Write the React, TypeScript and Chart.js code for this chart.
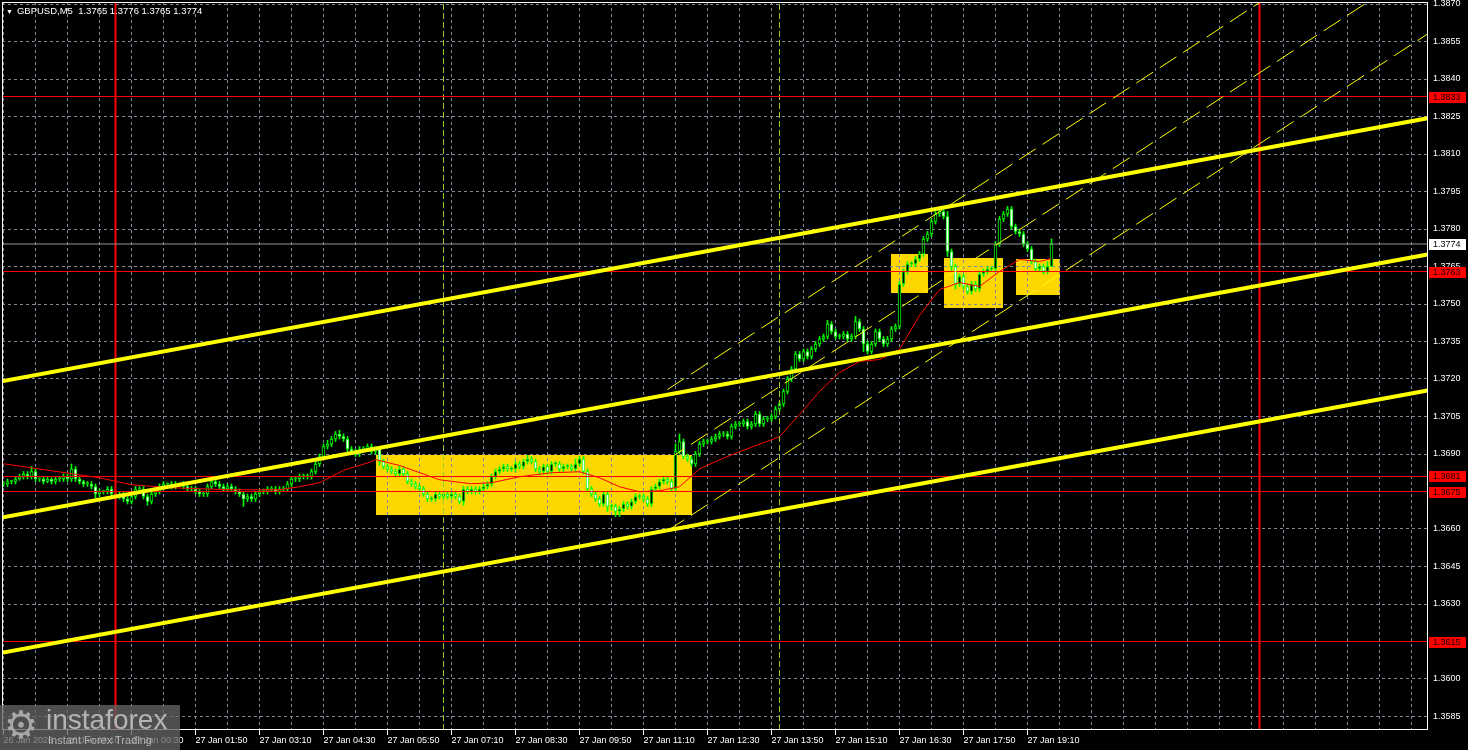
import React, { useEffect, useRef } from 'react';
import { Chart, registerables } from 'chart.js';

Chart.register(...registerables);

// ---- price data (pips above 1.3600), M5 candles, index 0 = 26 Jan 21:50 ----
const BASE = 1.36;
const PIP = 0.0001;
const FIRST_OPEN = 78;

const closePips = [
  78, 79, 79, 80, 81, 82, 81, 83, 80, 80, 79, 80, 79, 80, 80, 81,
  80, 84, 80, 79, 78, 78, 77, 74, 75, 75, 76, 74, 73, 74, 72, 71,
  73, 76, 76, 73, 71, 74, 75, 77, 78, 78, 77, 78, 78, 77, 76, 76,
  75, 74, 74, 77, 79, 78, 77, 76, 77, 76, 75, 74, 72, 73, 72, 74,
  75, 75, 76, 76, 75, 76, 76, 78, 80, 80, 81, 81, 81, 83, 86, 89,
  93, 94, 96, 98, 97, 96, 92, 91, 90, 92, 92, 93, 91, 92, 87, 85,
  84, 83, 82, 84, 82, 79, 78, 77, 76, 74, 72, 72, 74, 73, 74, 73,
  74, 73, 71, 76, 75, 76, 75, 76, 77, 78, 81, 83, 84, 85, 84, 84,
  86, 85, 87, 88, 87, 84, 83, 85, 83, 86, 86, 84, 85, 85, 84, 86,
  88, 83, 76, 74, 72, 70, 74, 69, 69, 67, 68, 70, 69, 71, 73, 73,
  72, 70, 76, 77, 79, 80, 79, 76, 91, 95, 89, 88, 86, 90, 94, 95,
  95, 96, 97, 98, 98, 97, 101, 102, 102, 103, 101, 102, 106, 102, 104, 104,
  105, 108, 110, 115, 120, 124, 130, 128, 131, 129, 132, 134, 136, 137, 142, 139,
  137, 137, 138, 136, 137, 143, 140, 134, 131, 134, 139, 136, 134, 136, 140, 141,
  158, 163, 166, 166, 168, 170, 176, 178, 183, 186, 187, 185, 171, 165, 158, 161,
  157, 155, 158, 156, 162, 163, 164, 164, 174, 184, 186, 188, 181, 179, 178, 174,
  172, 167, 164, 165, 163, 165, 174,
];

const upWick = [
  1, 1, 0.5, 1, 1, 1, 1, 2, 1, 0.5, 1, 1, 0.5, 1, 1, 1,
  1, 2, 1, 1, 0.5, 1, 1, 1, 1, 0.5, 1, 1, 1, 1, 1, 1,
  1, 1, 1, 1, 1, 1, 1, 1, 1, 0.5, 1, 1, 0.5, 1, 1, 1,
  1, 1, 1, 1, 1, 1, 1, 1, 1, 1, 1, 1, 1, 1, 1, 1,
  1, 1, 1, 1, 1, 1, 1, 1, 1, 1, 1, 1, 1, 1, 1.5, 1,
  1, 1.5, 1, 1, 1.5, 1, 1, 1, 1, 1, 1, 1, 1, 1, 1, 1,
  1, 1, 1, 1.5, 1, 1, 1, 1, 1, 1, 1, 1, 1, 1, 1, 1,
  1, 1, 1, 1, 1, 1, 1, 1, 1, 1, 1, 1, 1, 1, 1, 1,
  1, 1, 1, 1.5, 1, 1, 1, 1, 1, 1, 1, 1, 1, 1, 1, 2,
  1, 1, 1, 1, 1, 1, 1, 1, 1, 1, 1, 1, 1, 1, 1, 1,
  1, 1, 1, 1, 1, 1, 1, 1, 3, 3, 1, 1, 1, 1, 1, 1,
  1, 1, 1, 1, 1, 1, 1, 1, 1, 1, 1, 1, 1, 1, 1, 1,
  1, 1, 1, 1, 1, 1, 1, 1, 1, 1, 1, 1, 1, 1, 1.5, 1,
  1, 1, 1, 1, 1, 2, 1, 1, 1, 1, 1, 1, 1, 1, 1, 1,
  1, 1, 1, 1, 1, 1, 1, 1, 1, 1, 1, 1, 2, 1, 1, 1,
  1, 1, 1, 1, 1, 1, 1, 1, 1, 1, 1, 1, 1, 1, 1, 1,
  1, 1, 1, 1, 1, 2, 2,
];

const downWick = [
  1, 1, 1, 1, 0.5, 1, 1, 1, 1, 1, 1, 0.5, 1, 1, 1, 1,
  1, 1, 1, 1, 1, 1, 1, 1.5, 1, 1, 1, 1, 1, 1, 1, 1,
  1, 1, 1, 1, 1.5, 1, 1, 1, 1, 1, 1, 1, 1, 1, 1, 1,
  1, 1, 1, 1, 1, 1, 1, 1, 1, 1, 1, 1, 3, 1, 1, 1,
  1, 1, 1, 1, 1, 1, 1, 1, 1, 1, 1, 1, 1, 1, 1, 1,
  1, 1, 1, 1, 1, 1, 1.5, 1, 1, 1, 1, 1, 1, 1, 1.5, 1,
  1, 1, 1, 1, 1, 1, 1, 1, 1, 1, 1, 1, 1, 1, 1, 1,
  1, 1, 1, 1.5, 1, 1, 1, 1, 1, 1, 1, 1, 1, 1, 1, 1,
  1, 1, 1, 1, 1, 1, 1, 1, 1, 1, 1, 1, 1, 1, 1, 1,
  1, 1, 1, 1, 1, 1, 1, 2, 1.5, 2, 2, 1, 1, 1, 1, 1,
  1, 1, 1, 1, 1, 1, 1, 1, 1, 1, 1, 1, 1, 1, 1, 1,
  1, 1, 1, 1, 1, 1, 1, 1, 1, 1, 1, 1, 1, 1, 1, 1,
  1, 1, 1, 1, 1, 1, 1, 1, 1, 1, 1, 1, 1, 1, 1, 1,
  1, 1, 1, 1, 1, 1, 1, 3, 1, 1, 1, 1, 1, 1, 1, 1,
  1, 1, 1, 1, 1, 1, 1, 1, 1, 1, 1, 1, 2, 2, 2, 1,
  1, 1, 1, 1, 1, 1, 1, 1, 1, 1, 1, 1, 1, 1, 1, 1,
  1, 1, 1, 1, 1, 1, 0,
];

// moving average (red)
const maIndex = [0, 24, 32, 42, 49, 57, 69, 74, 79, 82, 85, 92, 93, 99, 109, 117, 122, 129, 137, 144, 149, 154, 159, 164, 169, 174, 179, 184, 194, 199, 204, 209, 214, 219, 224, 229, 234, 239, 244, 249, 254, 259, 262];
const maPips = [86.1, 80.5, 77.7, 76.5, 76.1, 75.7, 75.7, 76.9, 78.5, 81, 83.5, 86.9, 87.8, 85.4, 79.7, 78.1, 78.5, 80.9, 82.5, 82.9, 80.5, 76.9, 74.9, 75.3, 76.9, 84, 87.7, 90.9, 96.9, 105.8, 115, 122.6, 127, 127.8, 131.8, 145.4, 155.8, 158.6, 157, 163, 167.8, 167, 168.2];

// axis
const xTickLabels = ['26 Jan 2026', '26 Jan 23:10', '27 Jan 00:30', '27 Jan 01:50', '27 Jan 03:10', '27 Jan 04:30', '27 Jan 05:50', '27 Jan 07:10', '27 Jan 08:30', '27 Jan 09:50', '27 Jan 11:10', '27 Jan 12:30', '27 Jan 13:50', '27 Jan 15:10', '27 Jan 16:30', '27 Jan 17:50', '27 Jan 19:10'];
const xGridValues = [0, 8, 16, 24, 32, 40, 48, 56, 64, 72, 80, 88, 96, 104, 112, 120, 128, 136, 144, 152, 160, 168, 176, 184, 192, 200, 208, 216, 224, 232, 240, 248, 256, 264, 272, 280, 288, 296, 304, 312, 320, 328, 336, 344, 352];
const yTicks = [1.3585, 1.3600, 1.3615, 1.3630, 1.3645, 1.3660, 1.3675, 1.3690, 1.3705, 1.3720, 1.3735, 1.3750, 1.3765, 1.3780, 1.3795, 1.3810, 1.3825, 1.3840, 1.3855, 1.3870];
const X_MIN = -0.375;
const X_MAX = 356.125;
const Y_MIN = 1.35796;
const Y_MAX = 1.38708;

// levels & objects
const redLevels = [1.3833, 1.3763, 1.3681, 1.3675, 1.3615];
const currentPrice = 1.3774;
const redVerticals = [28, 314];
const sessionVerticals = [110, 194];

const trendX = [-0.75, 356];
const trendUpper = [1.37190, 1.38243];
const trendMiddle = [1.36645, 1.37698];
const trendLower = [1.36104, 1.37154];

const channelX = [166, 356];
const channelUpper = [1.37158, 1.39145];
const channelMiddle = [1.36877, 1.38864];
const channelLower = [1.36593, 1.38580];

const rectStart = [93, 222, 235, 253];
const rectEnd = [172, 231, 250, 264];
const rectTop = [1.36897, 1.37702, 1.37686, 1.37682];
const rectBottom = [1.36657, 1.37543, 1.37483, 1.37538];

const GRID = 'rgb(128,138,152)';
const FONT = "'Liberation Sans', Arial, sans-serif";

const px = (p: number) => BASE + p * PIP;

function buildCandles() {
  const wick: any[] = [];
  const body: any[] = [];
  const fills: string[] = [];
  closePips.forEach((c, i) => {
    const o = i === 0 ? FIRST_OPEN : closePips[i - 1];
    const hi = Math.max(o, c) + upWick[i];
    const lo = Math.min(o, c) - downWick[i];
    wick.push({ x: i, y: [px(lo), px(hi)] });
    body.push({ x: i, y: [px(o), px(c)] });
    fills.push(c >= o ? '#000000' : '#ffffff');
  });
  return { wick, body, fills };
}

function lineDs(xs: number[], ys: number[], color: string, width: number, dash: number[] = []) {
  return {
    type: 'line' as const,
    data: xs.map((x, k) => ({ x, y: ys[k] })),
    borderColor: color,
    borderWidth: width,
    borderDash: dash,
    pointRadius: 0,
    fill: false,
    tension: 0,
    clip: 0,
    order: 0,
  };
}

const noPad = (s: any) => {
  s.paddingTop = 0;
  s.paddingBottom = 0;
  s.paddingLeft = 0;
  s.paddingRight = 0;
};

const rectPlugin = {
  id: 'mtBackground',
  beforeDraw(chart: any) {
    const { ctx, width, height, chartArea: a, scales } = chart;
    const x = scales.x;
    const y = scales.y;
    ctx.save();
    ctx.fillStyle = '#000';
    ctx.fillRect(0, 0, width, height);
    ctx.beginPath();
    ctx.rect(a.left, a.top, a.right - a.left, a.bottom - a.top);
    ctx.clip();
    ctx.fillStyle = '#ffd700';
    for (let k = 0; k < rectStart.length; k++) {
      const x1 = Math.round(x.getPixelForValue(rectStart[k]));
      const x2 = Math.round(x.getPixelForValue(rectEnd[k]));
      const y1 = Math.round(y.getPixelForValue(rectTop[k]));
      const y2 = Math.round(y.getPixelForValue(rectBottom[k]));
      ctx.fillRect(x1, y1, x2 - x1, y2 - y1);
    }
    ctx.restore();
  },
  afterDraw(chart: any) {
    const { ctx, chartArea: a, scales } = chart;
    const y = scales.y;
    ctx.save();
    ctx.strokeStyle = '#ffffff';
    ctx.lineWidth = 1;
    ctx.strokeRect(a.left + 0.5, a.top + 0.5, a.right - a.left - 1, a.bottom - a.top - 1);
    ctx.font = `9px ${FONT}`;
    ctx.textBaseline = 'middle';
    ctx.textAlign = 'left';
    const box = (p: number, bg: string, fg: string) => {
      const py = Math.round(y.getPixelForValue(p));
      ctx.fillStyle = bg;
      ctx.fillRect(a.right + 1, py - 5, 37, 11);
      ctx.fillStyle = fg;
      ctx.fillText(p.toFixed(4), a.right + 5, py + 0.5);
    };
    redLevels.forEach((p) => box(p, '#ff0000', '#200000'));
    box(currentPrice, '#ffffff', '#000000');
    ctx.restore();
  },
};

export default function App() {
  const ref = useRef<HTMLCanvasElement>(null);

  useEffect(() => {
    document.body.style.margin = '0';
    document.body.style.background = '#000';
    const { wick, body, fills } = buildCandles();
    const yMinMax = [Y_MIN, Y_MAX];
    const datasets: any[] = [
      lineDs(trendX, trendUpper, '#ffff00', 4),
      lineDs(trendX, trendMiddle, '#ffff00', 4),
      lineDs(trendX, trendLower, '#ffff00', 4),
      lineDs(channelX, channelUpper, '#ffff00', 1, [20, 8]),
      lineDs(channelX, channelMiddle, '#ffff00', 1, [20, 8]),
      lineDs(channelX, channelLower, '#ffff00', 1, [20, 8]),
      ...redLevels.map((p) => lineDs([X_MIN, X_MAX], [p, p], '#ff0000', 1)),
      lineDs([X_MIN, X_MAX], [currentPrice, currentPrice], 'rgb(150,150,150)', 1),
      ...redVerticals.map((v) => lineDs([v, v], yMinMax, '#ff0000', 2)),
      ...sessionVerticals.map((v) => lineDs([v, v], yMinMax, '#9acd32', 1, [6, 3])),
      lineDs(maIndex, maPips.map(px), '#ff0000', 1),
      {
        type: 'bar',
        data: body,
        backgroundColor: fills,
        borderColor: '#00ff00',
        borderWidth: 1,
        borderSkipped: false,
        barThickness: 3,
        minBarLength: 1,
        grouped: false,
        order: 1,
      },
      {
        type: 'bar',
        data: wick,
        backgroundColor: '#00ff00',
        borderWidth: 0,
        barThickness: 1,
        grouped: false,
        order: 2,
      },
    ];

    const chart = new Chart(ref.current as HTMLCanvasElement, {
      type: 'bar',
      data: { datasets },
      plugins: [rectPlugin],
      options: {
        responsive: false,
        animation: false,
        events: [],
        layout: { padding: { left: 2, top: 2, right: 0, bottom: 0 } },
        plugins: {
          legend: { display: false },
          tooltip: { enabled: false },
          title: { display: false },
        },
        scales: {
          x: {
            type: 'linear',
            min: X_MIN,
            max: X_MAX,
            offset: false,
            afterFit: (s: any) => { s.height = 20; noPad(s); },
            afterBuildTicks: (s: any) => { s.ticks = xGridValues.map((v) => ({ value: v })); },
            grid: {
              color: GRID,
              lineWidth: 1,
              offset: false,
              drawTicks: true,
              tickLength: 5,
              tickWidth: 1,
              tickColor: (c: any) => {
                const v = c.tick ? c.tick.value : -1;
                return v % 16 === 0 && v / 16 < xTickLabels.length ? '#ffffff' : 'rgba(0,0,0,0)';
              },
            },
            border: { display: false, dash: [3, 3] },
            ticks: {
              color: '#ffffff',
              font: { family: FONT, size: 9 },
              autoSkip: false,
              maxRotation: 0,
              minRotation: 0,
              align: 'start',
              padding: 0,
              callback: (v: any) => {
                const n = Number(v);
                return n % 16 === 0 && n / 16 < xTickLabels.length ? xTickLabels[n / 16] : '';
              },
            },
          },
          y: {
            type: 'linear',
            position: 'right',
            min: Y_MIN,
            max: Y_MAX,
            afterFit: (s: any) => { s.width = 40; noPad(s); },
            afterBuildTicks: (s: any) => { s.ticks = yTicks.map((v) => ({ value: v })); },
            grid: { color: GRID, lineWidth: 1, drawTicks: false },
            border: { display: false, dash: [3, 3] },
            ticks: {
              color: '#ffffff',
              font: { family: FONT, size: 9 },
              padding: 5,
              autoSkip: false,
              callback: (v: any) => Number(v).toFixed(4),
            },
          },
        },
      } as any,
    } as any);
    return () => chart.destroy();
  }, []);

  return (
    <div style={{ position: 'fixed', left: 0, top: 0, width: 1468, height: 750, background: '#000', overflow: 'hidden' }}>
      <canvas ref={ref} width={1468} height={750} style={{ display: 'block', width: 1468, height: 750 }} />
      <div
        style={{
          position: 'absolute', left: 6, top: 5, color: '#ffffff', fontFamily: FONT, fontSize: 9.5,
          lineHeight: '11px', whiteSpace: 'pre',
        }}
      >
        <span style={{ fontSize: 7, marginRight: 4 }}>▼</span>
        GBPUSD,M5  1.3765 1.3776 1.3765 1.3774
      </div>
      <div
        style={{
          position: 'absolute', left: 0, top: 705, width: 180, height: 45,
          background: 'rgba(100,100,100,0.78)', overflow: 'hidden',
        }}
      >
        <div style={{ position: 'absolute', left: 4, top: -2, fontSize: 38, lineHeight: '44px', color: '#a8a8a8', fontFamily: "'DejaVu Sans', sans-serif" }}>⚙</div>
        <div style={{ position: 'absolute', left: 46, top: 0, fontSize: 28, lineHeight: '30px', color: '#b4b4b4', fontFamily: FONT }}>instaforex</div>
        <div style={{ position: 'absolute', left: 48, top: 29, fontSize: 11, lineHeight: '13px', color: '#b4b4b4', fontFamily: FONT }}>Instant Forex Trading</div>
      </div>
    </div>
  );
}
